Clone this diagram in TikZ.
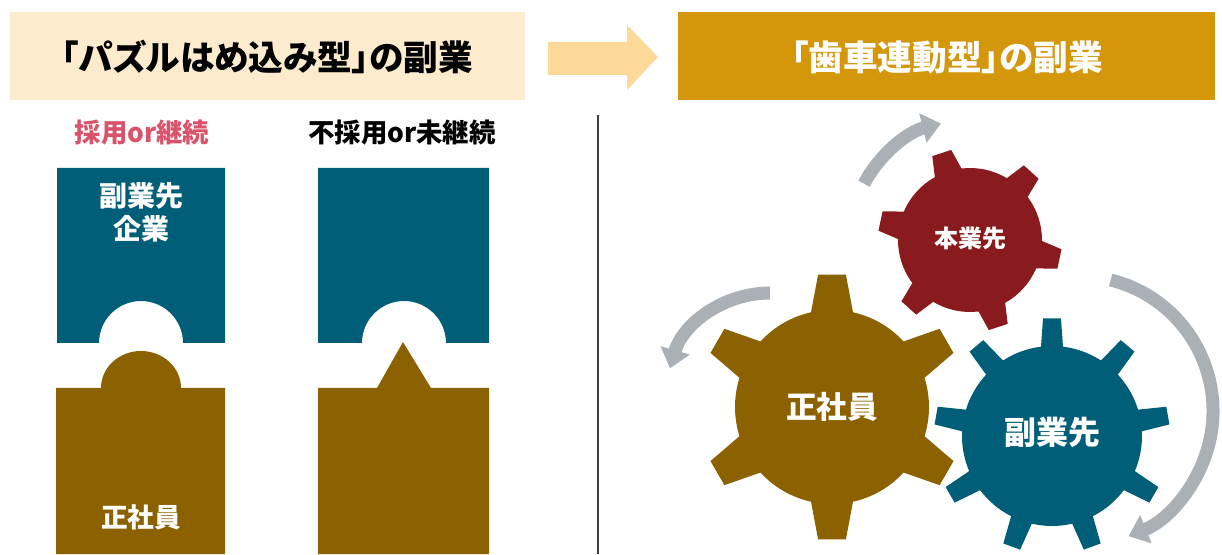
\documentclass[tikz,border=0pt]{standalone}
\usepackage{fontspec}
\setmainfont{Noto Sans CJK JP}
\newfontfamily\jpp{Noto Sans CJK JP}[RawFeature=+palt]
\usetikzlibrary{arrows.meta}
\definecolor{tealC}{RGB}{0,94,120}
\definecolor{brownC}{RGB}{140,98,0}
\definecolor{redC}{RGB}{137,26,30}
\definecolor{goldC}{RGB}{212,150,10}
\definecolor{creamC}{RGB}{252,235,204}
\definecolor{peachC}{RGB}{253,217,153}
\definecolor{grayC}{RGB}{170,176,182}
\definecolor{pinkC}{RGB}{217,84,106}
\definecolor{lineC}{RGB}{60,60,60}
\newcommand{\gearfill}[9]{%
  \pgfmathsetmacro\gstep{360/#6}%
  \pgfmathsetmacro\gdb{asin(#8/#4)}%
  \pgfmathsetmacro\gdt{atan(#9/#5)}%
  \pgfmathtruncatemacro\glast{#6-1}%
  \fill[#1,shift={(#2,#3)}] ({#7-\gdb}:#4)
    \foreach \k [evaluate=\k as \ga using {#7+\k*\gstep}] in {0,...,\glast}{
      -- ({\ga-\gdt}:#5) -- ({\ga+\gdt}:#5) -- ({\ga+\gdb}:#4)
      arc[start angle={\ga+\gdb}, end angle={\ga+\gstep-\gdb}, radius=#4]
    } -- cycle;
}
\tikzset{
  cyc/.style={draw=grayC, line width=9.75pt, -{Triangle[width=22pt,length=14pt]}},
  wtxt/.style={text=white, font=\bfseries, inner sep=0pt},
  ttl/.style={font=\jpp\fontsize{26pt}{30pt}\selectfont\bfseries, inner sep=0pt},
}
\begin{document}
\begin{tikzpicture}[x=0.75pt,y=0.75pt]
\useasboundingbox (0,0) rectangle (1222,554);
% title boxes
\fill[creamC] (10,454) rectangle (525,542);
\node[ttl] (tleft) at (267,497) {「パズルはめ込み型」の副業};
\fill[peachC] (548,479) -- (627,479) -- (627,464) -- (658,497) -- (627,529) -- (627,512) -- (548,512) -- cycle;
\fill[goldC] (678,454) rectangle (1215,542);
\node[ttl, text=white] (tright) at (947,497) {「歯車連動型」の副業};
% divider
\draw[lineC, line width=1.1pt] (598,439) -- (598,0);
% labels
\node[font=\fontsize{19.8pt}{23pt}\selectfont\bfseries, text=pinkC, inner sep=0pt] (lab1) at (142,421) {採用or継続};
\node[font=\fontsize{19.8pt}{23pt}\selectfont\bfseries, inner sep=0pt] (lab2) at (402,421) {不採用or未継続};
% puzzle pieces
\fill[tealC] (57,386) -- (225,386) -- (225,211) -- (183,211) arc[start angle=0,end angle=180,radius=42] -- (57,211) -- cycle;
\fill[tealC] (318,386) -- (489,386) -- (489,211) -- (446,211) arc[start angle=0,end angle=180,radius=42] -- (318,211) -- cycle;
\fill[brownC] (56,0) -- (56,166) -- (101,166) arc[start angle=180,end angle=0,x radius=40,y radius=37] -- (225,166) -- (225,0) -- cycle;
\fill[brownC] (318,0) -- (318,166) -- (377,166) -- (403,212) -- (431,166) -- (489,166) -- (489,0) -- cycle;
\node[wtxt, font=\fontsize{21pt}{24.75pt}\selectfont\bfseries, align=center] (p1) at (141,342) {副業先\\企業};
\node[wtxt, font=\fontsize{20pt}{24pt}\selectfont\bfseries] (p2) at (141,37) {正社員};
% gears
\gearfill{brownC}{832}{147}{97}{133}{6}{90}{21}{14}
\gearfill{redC}{970}{314}{72}{92}{6}{108}{14}{10}
\gearfill{tealC}{1052}{118}{90}{118}{9}{10}{11}{9}
\node[wtxt, font=\fontsize{18pt}{22pt}\selectfont\bfseries] (gHon) at (970,316) {本業先};
\node[wtxt, font=\fontsize{23pt}{27pt}\selectfont\bfseries] (gSei) at (832,147) {正社員};
\node[wtxt, font=\fontsize{24pt}{28pt}\selectfont\bfseries] (gFuku) at (1052,122) {副業先};
% rotation arrows
\draw[cyc] (970,314) ++(152:120) arc[start angle=152,end angle=104,radius=120];
\draw[cyc] (770,157) ++(90:104) arc[start angle=90,end angle=164,radius=104];
\draw[cyc] (1078,143) ++(76:135) arc[start angle=76,end angle=-68,radius=135];
\end{tikzpicture}
\end{document}
